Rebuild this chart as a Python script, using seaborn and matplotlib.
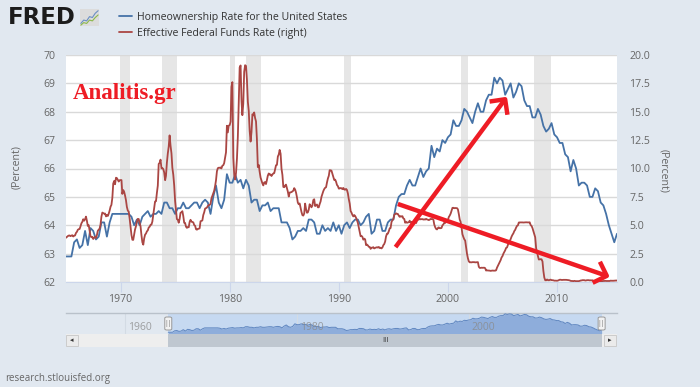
import pandas as pd
import matplotlib.pyplot as plt
import matplotlib.dates as mdates
from matplotlib.patches import Rectangle, FancyBboxPatch
from matplotlib.lines import Line2D
import seaborn as sns

# Homeownership rate, quarterly, 1965Q1 - 2015Q3
home_start = "1965-01-01"
home_rate = [
    62.9, 62.9, 62.9, 63.4,  63.5, 63.2, 63.3, 63.8,  63.3, 63.9, 63.8, 63.5,
    63.6, 64.1, 64.1, 63.6,  64.1, 64.4, 64.4, 64.4,  64.4, 64.4, 64.4, 64.4,
    64.3, 64.0, 64.2, 64.0,  64.3, 64.4, 64.5, 64.3,  64.4, 64.4, 64.5, 64.4,
    64.8, 64.8, 64.6, 64.6,  64.4, 64.6, 64.6, 64.8,  64.6, 64.6, 64.7, 64.8,
    64.8, 64.6, 64.8, 64.9,  64.8, 64.4, 65.0, 65.4,  64.8, 64.6, 64.9, 65.8,
    65.5, 65.5, 65.8, 65.5,  65.6, 65.3, 65.6, 65.4,  64.8, 64.9, 64.9, 64.5,
    64.7, 64.7, 64.8, 64.5,  64.6, 64.6, 64.6, 64.1,  64.1, 64.1, 63.9, 63.5,
    63.6, 63.8, 63.8, 63.9,  63.8, 64.2, 64.2, 64.1,  63.7, 63.7, 64.0, 63.8,
    63.9, 63.8, 64.1, 63.8,  64.0, 63.7, 64.0, 64.1,  63.9, 64.1, 64.2, 64.2,
    64.0, 64.1, 64.3, 64.4,  63.7, 63.8, 64.2, 64.2,  63.8, 63.8, 64.1, 64.2,
    64.2, 64.7, 65.0, 65.1,  65.1, 65.4, 65.6, 65.4,  65.4, 65.7, 66.0, 65.7,
    65.9, 66.0, 66.8, 66.4,  66.7, 66.6, 67.0, 66.9,  67.1, 67.2, 67.7, 67.5,
    67.5, 67.7, 68.1, 68.0,  67.8, 67.6, 68.0, 68.3,  68.0, 68.0, 68.4, 68.6,
    68.6, 69.2, 69.0, 69.2,  69.1, 68.6, 68.8, 69.0,  68.5, 68.7, 69.0, 68.9,
    68.4, 68.2, 68.2, 67.8,  67.8, 68.1, 67.9, 67.5,  67.3, 67.4, 67.6, 67.2,
    67.1, 66.9, 66.9, 66.5,  66.4, 65.9, 66.3, 66.0,  65.4, 65.5, 65.5, 65.4,
    65.0, 65.0, 65.3, 65.2,  64.8, 64.7, 64.4, 64.0,  63.7, 63.4, 63.7,
]

# Effective federal funds rate, monthly, 1965-01 - 2015-07
fed_start = "1965-01-01"
fed_rate = [
    3.90, 3.98, 4.04, 4.09, 4.10, 4.04, 4.09, 4.12, 4.01, 4.08, 4.10, 4.32,
    4.42, 4.60, 4.65, 4.67, 4.90, 5.17, 5.30, 5.53, 5.40, 5.53, 5.76, 5.40,
    4.94, 5.00, 4.53, 4.05, 3.94, 3.98, 3.79, 3.90, 3.99, 3.88, 4.13, 4.51,
    4.61, 4.71, 5.05, 5.76, 6.12, 6.07, 6.02, 6.03, 5.78, 5.91, 5.82, 6.02,
    6.30, 6.64, 6.79, 7.41, 8.67, 8.90, 8.61, 9.19, 9.15, 9.00, 8.85, 8.97,
    8.98, 8.98, 7.76, 8.10, 7.95, 7.61, 7.21, 6.61, 6.29, 6.20, 5.60, 4.90,
    4.14, 3.72, 3.71, 4.16, 4.63, 4.91, 5.31, 5.56, 5.55, 5.20, 4.91, 4.14,
    3.50, 3.29, 3.83, 4.17, 4.27, 4.46, 4.55, 4.80, 4.87, 5.04, 5.06, 5.33,
    5.94, 6.58, 7.09, 7.12, 7.84, 8.49, 10.40, 10.50, 10.78, 10.01, 10.03, 9.95,
    9.65, 8.97, 9.35, 10.51, 11.31, 11.93, 12.92, 12.01, 11.34, 10.06, 9.45, 8.53,
    7.13, 6.24, 5.54, 5.49, 5.22, 5.55, 6.10, 6.14, 6.24, 5.82, 5.22, 5.20,
    4.87, 4.77, 4.84, 4.82, 5.29, 5.48, 5.31, 5.29, 5.25, 5.02, 4.95, 4.65,
    4.61, 4.68, 4.69, 4.73, 5.35, 5.39, 5.42, 5.90, 6.14, 6.47, 6.51, 6.56,
    6.70, 6.78, 6.79, 6.89, 7.36, 7.60, 7.81, 8.04, 8.45, 8.96, 9.76, 10.03,
    10.07, 10.06, 10.09, 10.01, 10.24, 10.29, 10.47, 10.94, 11.43, 13.77, 13.18, 13.78,
    13.82, 14.13, 17.19, 17.61, 10.98, 9.47, 9.03, 9.61, 10.87, 12.81, 15.85, 18.90,
    19.08, 15.93, 14.70, 15.72, 18.52, 19.10, 19.04, 17.82, 15.87, 15.08, 13.31, 12.37,
    13.22, 14.78, 14.68, 14.94, 14.45, 14.15, 12.59, 10.12, 10.31, 9.71, 9.20, 8.95,
    8.68, 8.51, 8.77, 8.80, 8.63, 8.98, 9.37, 9.56, 9.45, 9.48, 9.34, 9.47,
    9.56, 9.59, 9.91, 10.29, 10.32, 11.06, 11.23, 11.64, 11.30, 9.99, 9.43, 8.38,
    8.35, 8.50, 8.58, 8.27, 7.97, 7.53, 7.88, 7.90, 7.92, 7.99, 8.05, 8.27,
    8.14, 7.86, 7.48, 6.99, 6.85, 6.92, 6.56, 6.17, 5.89, 5.85, 6.04, 6.91,
    6.43, 6.10, 6.13, 6.37, 6.85, 6.73, 6.58, 6.73, 7.22, 7.29, 6.69, 6.77,
    6.83, 6.58, 6.58, 6.87, 7.09, 7.51, 7.75, 8.01, 8.19, 8.30, 8.35, 8.76,
    9.12, 9.36, 9.85, 9.84, 9.81, 9.53, 9.24, 8.99, 9.02, 8.84, 8.55, 8.45,
    8.23, 8.24, 8.28, 8.26, 8.18, 8.29, 8.15, 8.13, 8.20, 8.11, 7.81, 7.31,
    6.91, 6.25, 6.12, 5.91, 5.78, 5.90, 5.82, 5.66, 5.45, 5.21, 4.81, 4.43,
    4.03, 4.06, 3.98, 3.73, 3.82, 3.76, 3.25, 3.30, 3.22, 3.10, 3.09, 2.92,
    3.02, 3.03, 3.07, 2.96, 3.00, 3.04, 3.06, 3.03, 3.09, 2.99, 3.02, 2.96,
    3.05, 3.25, 3.34, 3.56, 4.01, 4.25, 4.26, 4.47, 4.73, 4.76, 5.29, 5.45,
    5.53, 5.92, 5.98, 6.05, 6.01, 6.00, 5.85, 5.74, 5.80, 5.76, 5.80, 5.60,
    5.56, 5.22, 5.31, 5.22, 5.24, 5.27, 5.40, 5.22, 5.30, 5.24, 5.31, 5.29,
    5.25, 5.19, 5.39, 5.51, 5.50, 5.56, 5.52, 5.54, 5.54, 5.50, 5.52, 5.50,
    5.56, 5.51, 5.49, 5.45, 5.49, 5.56, 5.54, 5.55, 5.51, 5.07, 4.83, 4.68,
    4.63, 4.76, 4.81, 4.74, 4.74, 4.76, 4.99, 5.07, 5.22, 5.20, 5.42, 5.30,
    5.45, 5.73, 5.85, 6.02, 6.27, 6.53, 6.54, 6.50, 6.52, 6.51, 6.51, 6.40,
    5.98, 5.49, 5.31, 4.80, 4.21, 3.97, 3.77, 3.65, 3.07, 2.49, 2.09, 1.82,
    1.73, 1.74, 1.73, 1.75, 1.75, 1.75, 1.73, 1.74, 1.75, 1.75, 1.34, 1.24,
    1.24, 1.26, 1.25, 1.26, 1.26, 1.22, 1.01, 1.03, 1.01, 1.01, 1.00, 0.98,
    1.00, 1.01, 1.00, 1.00, 1.00, 1.03, 1.26, 1.43, 1.61, 1.76, 1.93, 2.16,
    2.28, 2.50, 2.63, 2.79, 3.00, 3.04, 3.26, 3.50, 3.62, 3.78, 4.00, 4.16,
    4.29, 4.49, 4.59, 4.79, 4.94, 4.99, 5.24, 5.25, 5.25, 5.25, 5.25, 5.24,
    5.25, 5.26, 5.26, 5.25, 5.25, 5.25, 5.26, 5.02, 4.94, 4.76, 4.49, 4.24,
    3.94, 2.98, 2.61, 2.28, 1.98, 2.00, 2.01, 2.00, 1.81, 0.97, 0.39, 0.16,
    0.15, 0.22, 0.18, 0.15, 0.18, 0.21, 0.16, 0.16, 0.15, 0.12, 0.12, 0.12,
    0.11, 0.13, 0.16, 0.20, 0.20, 0.18, 0.18, 0.19, 0.19, 0.19, 0.19, 0.18,
    0.17, 0.16, 0.14, 0.10, 0.09, 0.09, 0.07, 0.10, 0.08, 0.07, 0.08, 0.07,
    0.08, 0.10, 0.13, 0.14, 0.16, 0.16, 0.16, 0.13, 0.14, 0.16, 0.16, 0.16,
    0.14, 0.15, 0.14, 0.15, 0.11, 0.09, 0.09, 0.08, 0.08, 0.09, 0.08, 0.09,
    0.07, 0.07, 0.08, 0.09, 0.09, 0.10, 0.09, 0.09, 0.09, 0.09, 0.09, 0.12,
    0.11, 0.11, 0.11, 0.12, 0.12, 0.13, 0.13,
]

recessions = [
    ("1969-12-01", "1970-11-01"), ("1973-11-01", "1975-03-01"),
    ("1980-01-01", "1980-07-01"), ("1981-07-01", "1982-11-01"),
    ("1990-07-01", "1991-03-01"), ("2001-03-01", "2001-11-01"),
    ("2007-12-01", "2009-06-01"),
]

x_years = [1970, 1980, 1990, 2000, 2010]
left_ticks = [62, 63, 64, 65, 66, 67, 68, 69, 70]
right_ticks = [0.0, 2.5, 5.0, 7.5, 10.0, 12.5, 15.0, 17.5, 20.0]
nav_years = [1960, 1980, 2000]

# arrows drawn over the chart (date, left-axis value)
arrow_up = (("1995-03-15", 63.23), ("2005-06-01", 68.53))
arrow_down = (("1995-06-01", 64.75), ("2014-11-01", 62.18))

home = pd.DataFrame({"date": pd.date_range(home_start, periods=len(home_rate), freq="QS"),
                     "value": home_rate})
fed = pd.DataFrame({"date": pd.date_range(fed_start, periods=len(fed_rate), freq="MS"),
                    "value": fed_rate})

BG = "#e1e8f0"
BLUE = "#4572a7"
RED = "#aa4643"
TXT = "#666666"
ARROW = "#ee1c25"
W, H = 700, 387

sns.set_style("white")
plt.rcParams["font.family"] = ["Open Sans", "DejaVu Sans"]

fig = plt.figure(figsize=(7, 3.87), dpi=100)
fig.patch.set_facecolor(BG)

# ---- main chart
ax = fig.add_axes([66 / W, 1 - 282 / H, 551 / W, 227 / H])
ax.set_facecolor("white")
for s, e in recessions:
    ax.axvspan(pd.Timestamp(s), pd.Timestamp(e), color="#e6e6e6", lw=0, zorder=0)
sns.lineplot(data=home, x="date", y="value", ax=ax, color=BLUE, linewidth=1.3, zorder=3)
ax.set_ylim(62, 70)
ax.set_yticks(left_ticks)
ax.set_yticklabels([str(v) for v in left_ticks])
ax.grid(axis="y", color="#d9d9d9", lw=1)
ax.grid(axis="x", visible=False)
ax.set_xlim(home["date"].iloc[0], home["date"].iloc[-1])
ax.set_xticks([pd.Timestamp(f"{y}-01-01") for y in x_years])
ax.set_xticklabels([str(y) for y in x_years])
ax.tick_params(axis="x", length=7.2, width=0.8, color="#ccd6eb", labelcolor=TXT,
               labelsize=7.6, pad=1.5, direction="out", bottom=True)
ax.tick_params(axis="y", length=0, labelcolor=TXT, labelsize=7.6, pad=7.5)
for sp in ["top", "left", "right"]:
    ax.spines[sp].set_visible(False)
ax.spines["bottom"].set_color("#ccd6eb")
ax.set_xlabel("")
ax.set_ylabel("(Percent)", color=TXT, fontsize=7.6)
ax.yaxis.set_label_coords(-0.08, 0.505)

ax2 = ax.twinx()
sns.lineplot(data=fed, x="date", y="value", ax=ax2, color=RED, linewidth=1.3, zorder=3)
ax2.set_ylim(0, 20)
ax2.set_yticks(right_ticks)
ax2.set_yticklabels([f"{v:.1f}" for v in right_ticks])
ax2.tick_params(axis="y", length=0, labelcolor=TXT, labelsize=7.6, pad=9)
for sp in ax2.spines.values():
    sp.set_visible(False)
ax2.set_xlabel("")
ax2.set_ylabel("(Percent)", color=TXT, fontsize=7.6, rotation=270)
ax2.yaxis.set_label_coords(1.094, 0.49)

# arrows and watermark
for (s, e) in (arrow_up, arrow_down):
    ax2.annotate("", xy=(pd.Timestamp(e[0]), (e[1] - 62) * 2.5),
                 xytext=(pd.Timestamp(s[0]), (s[1] - 62) * 2.5),
                 arrowprops=dict(arrowstyle="->,head_length=0.8,head_width=0.8",
                                 color=ARROW, lw=3.2, mutation_scale=10,
                                 shrinkA=0, shrinkB=0, capstyle="butt"),
                 zorder=6)
fig.text(73 / W, 1 - 93 / H, "Analitis.gr", family="Liberation Serif", weight="bold",
         fontsize=16.5, color=ARROW, va="center", ha="left")

# ---- legend and logo
handles = [Line2D([], [], color=BLUE, lw=1.3), Line2D([], [], color=RED, lw=1.3)]
fig.legend(handles, ["Homeownership Rate for the United States",
                     "Effective Federal Funds Rate (right)"],
           loc="upper left", bbox_to_anchor=(119 / W, 1 - 12 / H), frameon=False,
           fontsize=7.6, handlelength=1.25, handletextpad=0.45, labelspacing=0.45,
           borderaxespad=0, borderpad=0, labelcolor="#333333")
fig.text(8 / W, 1 - 17.5 / H, "FRED", family="DejaVu Sans", weight="bold",
         fontsize=16.5, color="#1c1c1c", va="center", ha="left")
icon = fig.add_axes([80 / W, 1 - 26 / H, 19 / W, 17 / H])
icon.set_facecolor("#dcdcdc")
icon_blue = [0.15, 0.35, 0.3, 0.55, 0.5, 0.75, 0.9]
icon_green = [0.05, 0.2, 0.15, 0.35, 0.3, 0.5, 0.65]
icon.plot(range(len(icon_blue)), icon_blue, color="#6b8fc4", lw=0.8)
icon.plot(range(len(icon_green)), icon_green, color="#8cb84a", lw=0.8)
icon.set_xlim(-0.3, len(icon_blue) - 0.7)
icon.set_ylim(0, 1)
icon.set_xticks([])
icon.set_yticks([])
for sp in icon.spines.values():
    sp.set_visible(False)

# ---- navigator
nav_lim = (pd.Timestamp("1953-02-01"), pd.Timestamp("2017-04-15"))
nav = fig.add_axes([66 / W, 1 - 334 / H, 551 / W, 21 / H])
nav.set_facecolor(BG)
nav.set_xlim(*nav_lim)
nav.set_ylim(62.3, 69.5)
sel0, sel1 = home["date"].iloc[0], home["date"].iloc[-1]
nav.axvspan(sel0, sel1, color="#c6d9f1", lw=0, zorder=0)
for y in nav_years:
    t = pd.Timestamp(f"{y}-01-01")
    nav.axvline(t, color="#d3dbe4", lw=0.8, zorder=0.5)
    nav.text(t + pd.Timedelta(days=130), 0.32, str(y), transform=nav.get_xaxis_transform(),
             color="#8a8a8a", alpha=0.8, fontsize=7.5, va="center", ha="left", zorder=4)
nav.fill_between(home["date"], home["value"], 62.3, color="#8eaddb", lw=0, zorder=2)
sns.lineplot(data=home, x="date", y="value", ax=nav, color="#5f86c0", linewidth=0.7, zorder=3)
nav.set_xticks([])
nav.set_yticks([])
nav.set_xlabel("")
nav.set_ylabel("")
for sp in ["left", "right", "bottom"]:
    nav.spines[sp].set_visible(False)
nav.spines["top"].set_color("#b9c1ca")
nav.spines["top"].set_linewidth(1)

# handles of the navigator
fig.canvas.draw()
for t in (sel0, sel1):
    px = nav.transData.transform((mdates.date2num(t), 0))[0]
    fig.patches.append(FancyBboxPatch(((px - 3.5) / W, 1 - 330 / H), 7 / W, 13 / H,
                                      boxstyle="round,pad=0,rounding_size=0.003",
                                      transform=fig.transFigure, facecolor="#f2f2f2",
                                      edgecolor="#999999", lw=0.7, zorder=5))
    fig.text(px / W, 1 - 323.5 / H, "||", fontsize=5, color="#777777",
             ha="center", va="center", zorder=6)

# ---- scrollbar
sb = fig.add_axes([66 / W, 1 - 347 / H, 551 / W, 13 / H])
sb.set_facecolor("#eeeeee")
sb.set_xlim(*nav_lim)
sb.set_ylim(0, 1)
sb.axvspan(sel0, sel1, color="#bfc7d0", lw=0)
sb.text(sel0 + (sel1 - sel0) / 2, 0.5, "III", fontsize=5.5, color="#333333",
        ha="center", va="center")
sb.set_xticks([])
sb.set_yticks([])
for sp in sb.spines.values():
    sp.set_visible(False)
for x0, mark in ((66, "\u25c2"), (604, "\u25b8")):
    fig.patches.append(Rectangle((x0 / W, 1 - 346 / H), 12 / W, 11 / H,
                                 transform=fig.transFigure, facecolor="#ebebeb",
                                 edgecolor="#cccccc", lw=0.7, zorder=5))
    fig.text((x0 + 6) / W, 1 - 340.5 / H, mark, fontsize=5, color="#333333",
             family="DejaVu Sans", ha="center", va="center", zorder=6)

fig.text(5 / W, 1 - 378 / H, "research.stlouisfed.org", fontsize=7, color=TXT,
         va="center", ha="left")

fig.savefig("out.png", dpi=100, facecolor=BG)
